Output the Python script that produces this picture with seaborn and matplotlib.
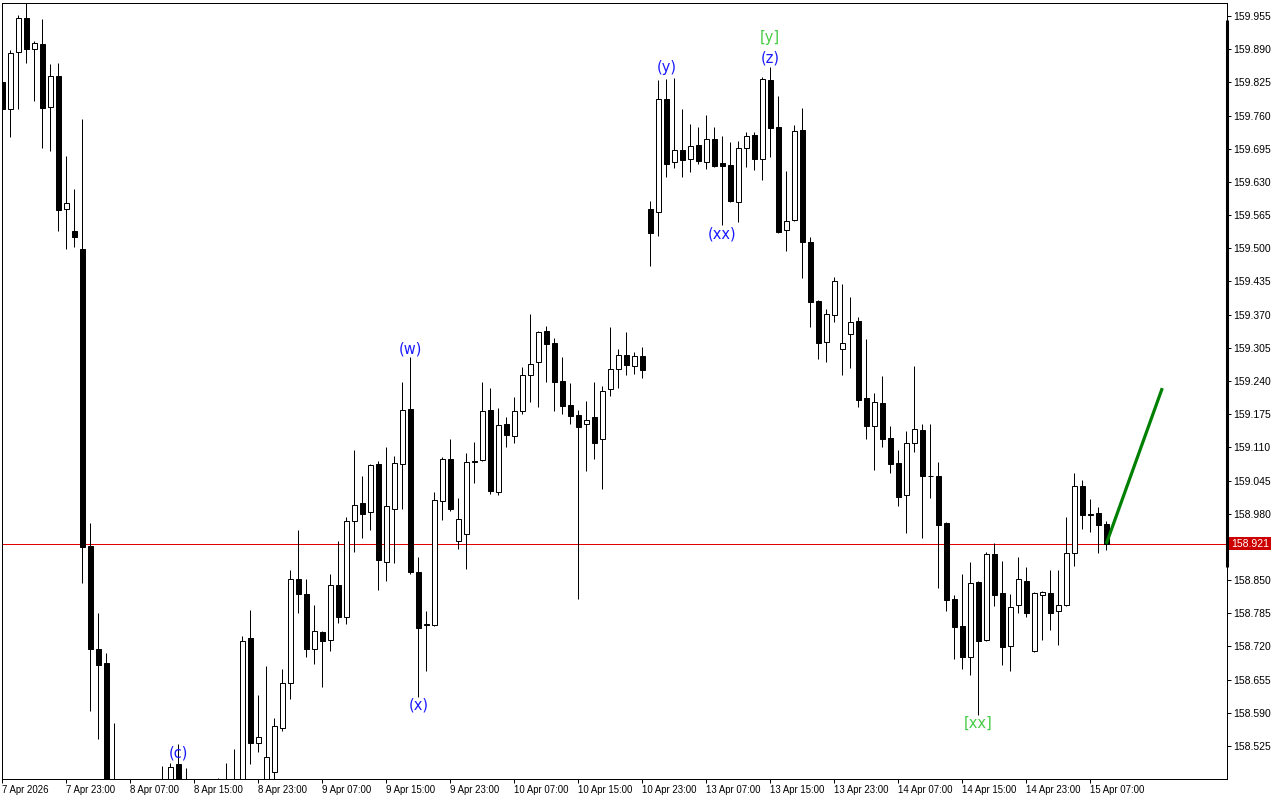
import matplotlib
matplotlib.use("Agg")
import matplotlib.pyplot as plt
import matplotlib.transforms as mtrans
import numpy as np
import pandas as pd
import seaborn as sns

# ---------------- data (H1 candles) ----------------
opens = [
    159.826, 159.773, 159.884, 159.951, 159.890, 159.900, 159.777, 159.837, 159.577, 159.534,
    159.499, 158.917, 158.715, 158.688, 158.380, 158.410, 158.330, 158.360, 158.390, 158.420,
    158.400, 158.430, 158.490, 158.420, 158.440, 158.400, 158.380, 158.410, 158.420, 158.410,
    158.440, 158.737, 158.531, 158.450, 158.474, 158.560, 158.648, 158.852, 158.823, 158.715,
    158.748, 158.733, 158.840, 158.778, 158.966, 159.001, 158.983, 159.077, 158.885, 158.989,
    159.077, 159.185, 158.866, 158.762, 158.762, 159.005, 159.087, 158.927, 158.940, 159.083,
    159.085, 159.183, 159.022, 159.156, 159.132, 159.181, 159.252, 159.277, 159.338, 159.314,
    159.240, 159.193, 159.173, 159.156, 159.169, 159.126, 159.224, 159.264, 159.291, 159.269,
    159.289, 159.577, 159.571, 159.792, 159.669, 159.693, 159.675, 159.702, 159.669, 159.714,
    159.667, 159.663, 159.591, 159.696, 159.722, 159.675, 159.830, 159.738, 159.536, 159.555,
    159.732, 159.512, 159.397, 159.316, 159.369, 159.303, 159.332, 159.358, 159.207, 159.152,
    159.197, 159.128, 159.079, 159.017, 159.119, 159.144, 159.054, 159.054, 158.962, 158.813,
    158.760, 158.699, 158.846, 158.733, 158.901, 158.825, 158.721, 158.801, 158.848, 158.711,
    158.821, 158.825, 158.789, 158.801, 158.903, 159.034, 158.979, 158.981, 158.960,
]
highs = [
    159.830, 159.888, 159.957, 159.985, 159.906, 159.949, 159.861, 159.863, 159.681, 159.616,
    159.753, 158.962, 158.786, 158.707, 158.570, 158.440, 158.400, 158.420, 158.445, 158.450,
    158.486, 158.492, 158.529, 158.482, 158.455, 158.440, 158.430, 158.462, 158.492, 158.519,
    158.741, 158.791, 158.625, 158.682, 158.580, 158.676, 158.870, 158.948, 158.852, 158.801,
    158.750, 158.862, 158.927, 158.973, 159.105, 159.054, 159.077, 159.083, 159.111, 159.093,
    159.238, 159.287, 158.895, 158.789, 159.022, 159.091, 159.126, 159.011, 159.099, 159.120,
    159.238, 159.226, 159.187, 159.169, 159.209, 159.267, 159.371, 159.338, 159.348, 159.324,
    159.287, 159.236, 159.183, 159.201, 159.238, 159.230, 159.346, 159.303, 159.336, 159.297,
    159.307, 159.593, 159.830, 159.832, 159.834, 159.773, 159.743, 159.738, 159.761, 159.738,
    159.720, 159.708, 159.710, 159.728, 159.728, 159.836, 159.855, 159.798, 159.651, 159.742,
    159.775, 159.522, 159.399, 159.381, 159.444, 159.430, 159.405, 159.365, 159.322, 159.217,
    159.250, 159.152, 159.105, 159.142, 159.269, 159.156, 159.156, 159.081, 158.964, 158.821,
    158.862, 158.885, 158.848, 158.905, 158.923, 158.887, 158.823, 158.895, 158.876, 158.827,
    158.828, 158.870, 158.870, 158.973, 159.060, 159.046, 159.009, 158.993, 158.966,
]
lows = [
    159.767, 159.718, 159.773, 159.863, 159.789, 159.696, 159.691, 159.534, 159.499, 159.502,
    158.844, 158.594, 158.539, 158.321, 158.330, 158.300, 158.280, 158.310, 158.350, 158.370,
    158.380, 158.410, 158.400, 158.390, 158.380, 158.350, 158.340, 158.370, 158.390, 158.380,
    158.420, 158.490, 158.513, 158.430, 158.455, 158.554, 158.617, 158.786, 158.699, 158.686,
    158.641, 158.711, 158.766, 158.764, 158.905, 158.932, 158.948, 158.831, 158.848, 158.884,
    158.989, 158.862, 158.621, 158.672, 158.760, 158.968, 158.985, 158.911, 158.872, 159.040,
    159.083, 159.019, 159.017, 159.111, 159.119, 159.175, 159.199, 159.189, 159.238, 159.181,
    159.175, 159.156, 158.813, 159.064, 159.087, 159.028, 159.211, 159.226, 159.252, 159.254,
    159.246, 159.465, 159.524, 159.640, 159.657, 159.640, 159.649, 159.665, 159.655, 159.659,
    159.546, 159.591, 159.551, 159.659, 159.653, 159.634, 159.679, 159.530, 159.495, 159.553,
    159.442, 159.346, 159.283, 159.277, 159.356, 159.252, 159.265, 159.189, 159.126, 159.066,
    159.111, 159.060, 158.995, 158.942, 159.101, 158.932, 159.011, 158.835, 158.789, 158.695,
    158.676, 158.664, 158.586, 158.731, 158.799, 158.684, 158.672, 158.786, 158.778, 158.709,
    158.733, 158.752, 158.723, 158.800, 158.878, 158.950, 158.944, 158.903, 158.909,
]
closes = [
    159.773, 159.882, 159.951, 159.890, 159.902, 159.775, 159.837, 159.575, 159.589, 159.522,
    158.915, 158.715, 158.684, 158.360, 158.410, 158.330, 158.360, 158.390, 158.420, 158.400,
    158.430, 158.484, 158.420, 158.440, 158.400, 158.380, 158.410, 158.420, 158.410, 158.440,
    158.731, 158.531, 158.543, 158.503, 158.564, 158.648, 158.852, 158.823, 158.715, 158.750,
    158.731, 158.840, 158.778, 158.966, 158.997, 158.979, 159.075, 158.889, 158.995, 159.079,
    159.183, 158.866, 158.756, 158.763, 159.007, 159.087, 158.989, 158.970, 159.081, 159.082,
    159.181, 159.024, 159.154, 159.134, 159.181, 159.252, 159.273, 159.336, 159.312, 159.238,
    159.191, 159.171, 159.150, 159.164, 159.119, 159.220, 159.264, 159.291, 159.271, 159.289,
    159.262, 159.530, 159.792, 159.665, 159.693, 159.673, 159.700, 159.671, 159.714, 159.661,
    159.661, 159.593, 159.696, 159.720, 159.675, 159.832, 159.736, 159.532, 159.553, 159.730,
    159.512, 159.395, 159.314, 159.371, 159.436, 159.314, 159.356, 159.203, 159.152, 159.199,
    159.126, 159.077, 159.013, 159.119, 159.146, 159.054, 159.053, 158.958, 158.811, 158.758,
    158.699, 158.844, 158.731, 158.901, 158.821, 158.719, 158.797, 158.852, 158.786, 158.825,
    158.827, 158.786, 158.801, 158.903, 159.034, 158.977, 158.978, 158.958, 158.921,
]

xtick_labels = [
    "7 Apr 2026", "7 Apr 23:00", "8 Apr 07:00", "8 Apr 15:00", "8 Apr 23:00",
    "9 Apr 07:00", "9 Apr 15:00", "9 Apr 23:00", "10 Apr 07:00", "10 Apr 15:00",
    "10 Apr 23:00", "13 Apr 07:00", "13 Apr 15:00", "13 Apr 23:00", "14 Apr 07:00",
    "14 Apr 15:00", "14 Apr 23:00", "15 Apr 07:00",
]
xtick_bars = [0, 8, 16, 24, 32, 40, 48, 56, 64, 72, 80, 88, 96, 104, 112, 120, 128, 136]

ytick_values = [
    159.955, 159.890, 159.825, 159.760, 159.695, 159.630, 159.565, 159.500,
    159.435, 159.370, 159.305, 159.240, 159.175, 159.110, 159.045, 158.980,
    158.915, 158.850, 158.785, 158.720, 158.655, 158.590, 158.525,
]

wave_bars = [22, 51, 52, 83, 90, 96, 96, 122]
wave_texts = ["(c)", "(w)", "(x)", "(y)", "(xx)", "(z)", "[y]", "[xx]"]
wave_prices = [158.511, 159.303, 158.605, 159.855, 159.528, 159.873, 159.912, 158.570]
wave_degree = ["minor", "minor", "minor", "minor", "minor", "minor", "major", "major"]

forecast_bars = [138, 145]
forecast_prices = [158.921, 159.226]

bid_price = 158.921
scale_marker = [159.947, 158.876]

# ---------------- styling ----------------
sns.set_theme(style="white")
plt.rcParams["font.family"] = ["Liberation Sans", "DejaVu Sans"]

W, H = 1280, 800
fig = plt.figure(figsize=(W / 100, H / 100), dpi=100)
ax = fig.add_axes([2 / W, 21 / H, 1225 / W, 776 / H])
ax.set_facecolor("white")

df = pd.DataFrame({"open": opens, "high": highs, "low": lows, "close": closes})
df["bar"] = np.arange(len(df))
df["bull"] = df["close"] > df["open"]
df["bottom"] = df[["open", "close"]].min(axis=1)
df["height"] = (df["close"] - df["open"]).abs().clip(lower=0.0008)

px = 0.72  # one pixel in points
# wicks
ax.vlines(df["bar"], df["low"], df["high"], colors="black", linewidth=1.0 * px, zorder=2)
# bodies
ax.bar(df["bar"], df["height"], bottom=df["bottom"], width=0.58,
       color=np.where(df["bull"], "white", "black"), edgecolor="black",
       linewidth=1.0 * px, zorder=3)

# bid line
ax.axhline(bid_price, color="#e00000", linewidth=1.0 * px, zorder=1)

# forecast line
fc = pd.DataFrame({"bar": forecast_bars, "price": forecast_prices})
sns.lineplot(data=fc, x="bar", y="price", color="#008000", linewidth=2.3, ax=ax,
             zorder=5, solid_capstyle="butt")

# wave labels
for b, t, p, d in zip(wave_bars, wave_texts, wave_prices, wave_degree):
    ax.text(b, p, t, ha="center", va="center", fontsize=10.5,
            color="#1a1aff" if d == "minor" else "#44cc44",
            family=["DejaVu Sans"], zorder=6)

# axes limits / ticks
ax.set_xlim(-0.0375, 153.09)
ax.set_ylim(158.4603, 159.9804)

ax.yaxis.tick_right()
ax.set_yticks(ytick_values)
# the level hidden behind the bid label gets no text
ax.set_yticklabels(["" if abs(v - bid_price) < 0.02 else f"{v:.3f}" for v in ytick_values])
ax.tick_params(axis="y", which="both", direction="out", length=3.0, width=px,
               pad=1.8, labelsize=7.5, colors="black", left=False, right=True)

ax.set_xticks(xtick_bars)
ax.set_xticklabels(xtick_labels, ha="left")
ax.tick_params(axis="x", which="both", direction="out", length=3.0, width=px,
               pad=1.5, labelsize=6.9, colors="black", bottom=True)
for lab in ax.get_xticklabels():
    lab.set_horizontalalignment("left")

ax.set_xlabel("")
ax.set_ylabel("")
for s in ax.spines.values():
    s.set_color("black")
    s.set_linewidth(px)
    s.set_visible(True)
ax.grid(False)

blend = mtrans.blended_transform_factory(ax.transAxes, ax.transData)
# thick marker on the price scale edge
ax.plot([1.0, 1.0], scale_marker, transform=blend, color="black", linewidth=2.2,
        solid_capstyle="butt", clip_on=False, zorder=7)

# bid price label
ax.annotate(f"{bid_price:.3f}", xy=(1.0, bid_price), xycoords=blend,
            xytext=(4, 0), textcoords="offset pixels", ha="left", va="center",
            color="white", fontsize=7.5, annotation_clip=False, zorder=10,
            bbox=dict(boxstyle="square,pad=0.15", fc="#cc0000", ec="none"))

fig.savefig("out.png", dpi=100)
